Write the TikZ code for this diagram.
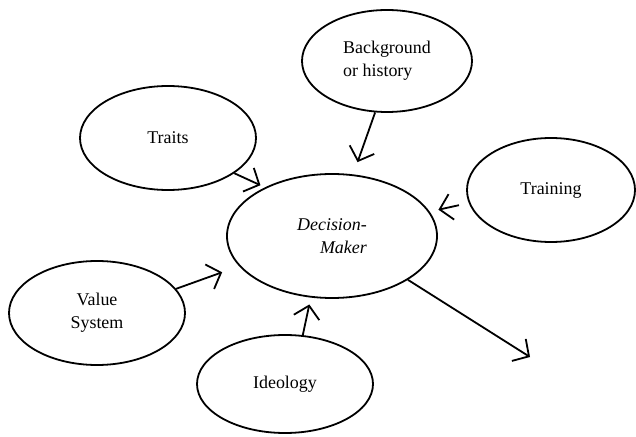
\documentclass[tikz,border=0pt]{standalone}
\usepackage{fontspec}
\setmainfont{Liberation Serif}
\usetikzlibrary{arrows.meta,shapes.geometric}
\begin{document}
\begin{tikzpicture}[x=1bp,y=-1bp,
  bub/.style={draw, ellipse, line width=1.8bp, inner sep=0pt, font=\fontsize{18}{23}\selectfont},
  conn/.style={line width=1.8bp, -{Straight Barb[length=12bp,width=26bp]}}]
\useasboundingbox (0,0) rectangle (636,437);
\node[bub, minimum width=176bp, minimum height=104bp] (traits) at (168,138) {Traits};
\node[bub, minimum width=170bp, minimum height=102bp, align=left] (bg) at (387,61) {Background\\or history};
\node[bub, minimum width=168bp, minimum height=104bp] (training) at (551,190) {Training};
\node[bub, minimum width=210bp, minimum height=124bp, align=right, font=\fontsize{18}{23}\selectfont\itshape] (dm) at (332,236) {Decision-\\Maker};
\node[bub, minimum width=176bp, minimum height=104bp, align=center] (value) at (97,313) {Value\\System};
\node[bub, minimum width=176bp, minimum height=98bp] (ideology) at (285,384) {Ideology};
\coordinate (out) at (530,357);
\draw[conn, shorten >=5bp] (traits.-28) -- (dm.144);
\draw[conn, shorten >=13bp] (bg.257) -- (dm.71);
\draw[conn, shorten <=10bp, shorten >=9bp] (training.189) -- (dm.14);
\draw[conn, shorten >=18bp] (value.17) -- (dm.198);
\draw[conn, shorten >=7bp] (ideology.70) -- (dm.251);
\draw[conn] (dm.-30) -- (out);
\end{tikzpicture}
\end{document}
